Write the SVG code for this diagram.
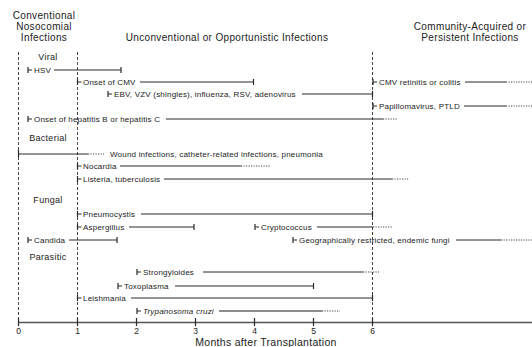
<svg xmlns="http://www.w3.org/2000/svg" width="532" height="347" viewBox="0 0 532 347">
<style>
text{font-family:"Liberation Sans",Arial,sans-serif;fill:#222}
.hd{font-size:10px;letter-spacing:0.35px;text-anchor:middle}
.cat{font-size:9px;letter-spacing:0.3px;text-anchor:middle}
.lb{font-size:8px;letter-spacing:0.2px}
.ax{font-size:8.5px;text-anchor:middle}
.ln{stroke:#2a2a2a;stroke-width:1;fill:none}
.tk{stroke:#2a2a2a;stroke-width:1.2;fill:none}
.dt{stroke:#444;stroke-width:1;stroke-dasharray:1.2,1.3;fill:none}
.vd{stroke:#444;stroke-width:1;stroke-dasharray:3,2;fill:none}
.axl{stroke:#555;stroke-width:1.6;fill:none}
</style>
<g id="headers">
<text class="hd" x="44" y="19">Conventional</text>
<text class="hd" x="44" y="30">Nosocomial</text>
<text class="hd" x="44" y="41">Infections</text>
<text class="hd" x="227" y="41">Unconventional or Opportunistic Infections</text>
<text class="hd" x="470" y="30">Community-Acquired or</text>
<text class="hd" x="470" y="41">Persistent Infections</text>
</g>
<g id="categories">
<text class="cat" x="48" y="60">Viral</text>
<text class="cat" x="48" y="141">Bacterial</text>
<text class="cat" x="48" y="203">Fungal</text>
<text class="cat" x="48" y="260">Parasitic</text>
</g>
<g id="guides">
<line class="vd" x1="18.5" y1="52" x2="18.5" y2="322"/>
<line class="vd" x1="77.5" y1="52" x2="77.5" y2="322"/>
<line class="vd" x1="372.5" y1="52" x2="372.5" y2="322"/>
</g>
<g id="connectors">
<path class="tk" d="M28,67v6M28,70h4M121,67v6"/>
<line class="ln" x1="54" y1="70" x2="121" y2="70"/>
<path class="tk" d="M77.5,79v6M77.5,82h4M253.5,79v6"/>
<line class="ln" x1="140" y1="82" x2="253.5" y2="82"/>
<path class="tk" d="M108,91v6M108,94h4M372.5,91v6"/>
<line class="ln" x1="302" y1="94" x2="372.5" y2="94"/>
<path class="tk" d="M373,79v6M373,82h4"/>
<line class="ln" x1="465" y1="82" x2="506" y2="82"/>
<line class="dt" x1="506" y1="82" x2="532" y2="82"/>
<path class="tk" d="M373,103v6M373,106h4"/>
<line class="ln" x1="464" y1="106" x2="506" y2="106"/>
<line class="dt" x1="506" y1="106" x2="532" y2="106"/>
<path class="tk" d="M28,116v6M28,119h4"/>
<line class="ln" x1="166" y1="119" x2="383" y2="119"/>
<line class="dt" x1="383" y1="119" x2="398" y2="119"/>
<path class="tk" d="M18.5,150v7"/>
<line class="ln" x1="18.5" y1="154" x2="88" y2="154"/>
<line class="dt" x1="88" y1="154" x2="104" y2="154"/>
<path class="tk" d="M77.5,163v6M77.5,166h4"/>
<line class="ln" x1="120" y1="166" x2="241" y2="166"/>
<line class="dt" x1="241" y1="166" x2="271" y2="166"/>
<path class="tk" d="M77.5,176v6M77.5,179h4"/>
<line class="ln" x1="164" y1="179" x2="392" y2="179"/>
<line class="dt" x1="392" y1="179" x2="409" y2="179"/>
<path class="tk" d="M77.5,211v6M77.5,214h4M372.5,211v6"/>
<line class="ln" x1="141" y1="214" x2="372.5" y2="214"/>
<path class="tk" d="M77.5,224v6M77.5,227h4M194,224v6"/>
<line class="ln" x1="129" y1="227" x2="194" y2="227"/>
<path class="tk" d="M255,224v6M255,227h4"/>
<line class="ln" x1="317" y1="227" x2="373" y2="227"/>
<line class="dt" x1="373" y1="227" x2="393" y2="227"/>
<path class="tk" d="M28,237v6M28,240h4M117,237v6"/>
<line class="ln" x1="69" y1="240" x2="117" y2="240"/>
<path class="tk" d="M293,237v6M293,240h4"/>
<line class="ln" x1="456" y1="240" x2="501" y2="240"/>
<line class="dt" x1="501" y1="240" x2="532" y2="240"/>
<path class="tk" d="M137,269v6M137,272h4"/>
<line class="ln" x1="203" y1="272" x2="363" y2="272"/>
<line class="dt" x1="363" y1="272" x2="379" y2="272"/>
<path class="tk" d="M118,283v6M118,286h4M313.5,283v6"/>
<line class="ln" x1="175" y1="286" x2="313.5" y2="286"/>
<path class="tk" d="M77.5,295v6M77.5,298h4M372.5,295v6"/>
<line class="ln" x1="131" y1="298" x2="372.5" y2="298"/>
<path class="tk" d="M137,308v6M137,311h4"/>
<line class="ln" x1="219" y1="311" x2="322" y2="311" style="stroke:#666;stroke-width:1.5"/>
<line class="dt" x1="322" y1="311" x2="340" y2="311"/>
</g>
<g id="labels">
<text class="lb" x="34" y="73">HSV</text>
<text class="lb" x="83" y="85">Onset of CMV</text>
<text class="lb" x="114" y="97">EBV, VZV (shingles), influenza, RSV, adenovirus</text>
<text class="lb" x="379" y="85">CMV retinitis or colitis</text>
<text class="lb" x="379" y="109">Papillomavirus, PTLD</text>
<text class="lb" x="34" y="122">Onset of hepatitis B or hepatitis C</text>
<text class="lb" x="110" y="157">Wound infections, catheter-related infections, pneumonia</text>
<text class="lb" x="83" y="169">Nocardia</text>
<text class="lb" x="83" y="182">Listeria, tuberculosis</text>
<text class="lb" x="83" y="217">Pneumocystis</text>
<text class="lb" x="83" y="230">Aspergillus</text>
<text class="lb" x="261" y="230">Cryptococcus</text>
<text class="lb" x="34" y="243">Candida</text>
<text class="lb" x="299" y="243">Geographically restricted, endemic fungi</text>
<text class="lb" x="143" y="275">Strongyloides</text>
<text class="lb" x="124" y="289">Toxoplasma</text>
<text class="lb" x="83" y="301">Leishmania</text>
<text class="lb" x="143" y="314" font-style="italic">Trypanosoma cruzi</text>
</g>
<g id="axis">
<line class="axl" x1="18" y1="322.5" x2="532" y2="322.5"/>
<path class="tk" d="M18.5,318v8M77.5,318v8M136.5,318v8M195.5,318v8M254.5,318v8M313.5,318v8M372.5,318v8"/>
<text class="ax" x="18.5" y="334">0</text>
<text class="ax" x="77.5" y="334">1</text>
<text class="ax" x="136.5" y="334">2</text>
<text class="ax" x="195.5" y="334">3</text>
<text class="ax" x="254.5" y="334">4</text>
<text class="ax" x="313.5" y="334">5</text>
<text class="ax" x="372.5" y="334">6</text>
<text x="266" y="345.5" style="font-size:10.5px;letter-spacing:0.3px;text-anchor:middle">Months after Transplantation</text>
</g>
</svg>
